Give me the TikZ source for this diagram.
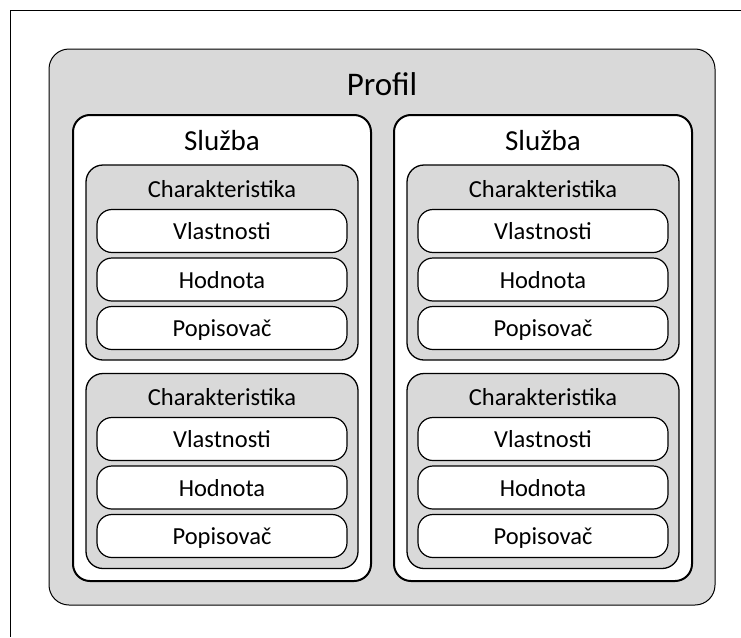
\documentclass[tikz,border=0pt]{standalone}
\usepackage{fontspec}
\setmainfont{Carlito}
\definecolor{BoxClr}{RGB}{217,217,217}

\begin{document}
\begin{tikzpicture}[x=1pt,y=-1pt,
  profil/.style={draw=black,line width=1pt,fill=BoxClr,rounded corners=20pt,minimum width=666pt,minimum height=556pt},
  sluzba/.style={draw=black,line width=2pt,fill=white,rounded corners=17pt,minimum width=298pt,minimum height=466pt},
  charbox/.style={draw=black,line width=1.3pt,fill=BoxClr,rounded corners=17pt,minimum width=272pt,minimum height=195pt},
  pill/.style={draw=black,line width=1.2pt,fill=white,rounded corners=15pt,minimum width=250pt,minimum height=43pt,inner sep=0pt,text height=17pt,text depth=0pt,font=\fontsize{24.5}{28}\selectfont},
  title/.style={anchor=base,inner sep=0pt}]
\useasboundingbox (0,0) rectangle (741,637);
\draw[line width=1pt] (741,10) -| (10,637);

\node[profil] (Pr) at (382,327) {};
\node[title,font=\fontsize{33}{38}\selectfont] (PrT) at (382,95) {Profil};

% services
\node[sluzba] (S1) at (222,348) {};
\node[sluzba] (S2) at (543,348) {};
\node[title,font=\fontsize{29}{34}\selectfont] (S1T) at (222,150) {Služba};
\node[title,font=\fontsize{29}{34}\selectfont] (S2T) at (543,150) {Služba};

% characteristics
\node[charbox] (C11) at (222,262.5) {};
\node[charbox] (C12) at (222,471) {};
\node[charbox] (C21) at (543,262.5) {};
\node[charbox] (C22) at (543,471) {};
\node[title,font=\fontsize{24.5}{28}\selectfont] (C11T) at (222,197) {Charakteristika};
\node[title,font=\fontsize{24.5}{28}\selectfont] (C12T) at (222,405) {Charakteristika};
\node[title,font=\fontsize{24.5}{28}\selectfont] (C21T) at (543,197) {Charakteristika};
\node[title,font=\fontsize{24.5}{28}\selectfont] (C22T) at (543,405) {Charakteristika};

\node[pill] (V11) at (222,231) {Vlastnosti};
\node[pill] (H11) at (222,279.5) {Hodnota};
\node[pill] (D11) at (222,328) {Popisovač};
\node[pill] (V12) at (222,439) {Vlastnosti};
\node[pill] (H12) at (222,487.5) {Hodnota};
\node[pill] (D12) at (222,536) {Popisovač};

\node[pill] (V21) at (543,231) {Vlastnosti};
\node[pill] (H21) at (543,279.5) {Hodnota};
\node[pill] (D21) at (543,328) {Popisovač};
\node[pill] (V22) at (543,439) {Vlastnosti};
\node[pill] (H22) at (543,487.5) {Hodnota};
\node[pill] (D22) at (543,536) {Popisovač};

\end{tikzpicture}
\end{document}
